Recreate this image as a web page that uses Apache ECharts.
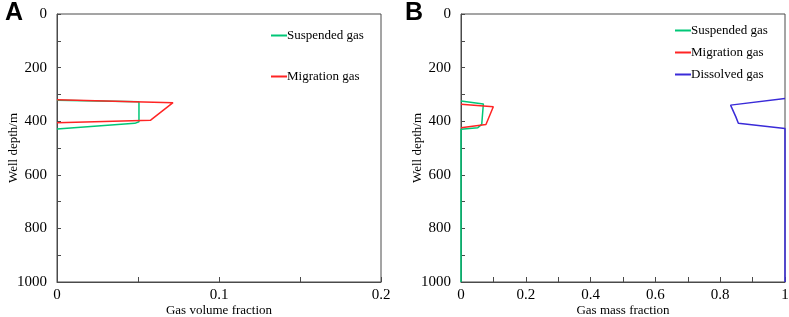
<!DOCTYPE html>
<html lang="en">
	<head>
		<meta charset="utf-8" />
		<title>Gas fraction vs well depth</title>
		<style>
			html, body { margin: 0; padding: 0; background: #fff; }
		</style>
	</head>
	<body>
		<div id="main" style="width: 789px; height: 317px;"></div>

		<script src="https://cdn.jsdelivr.net/npm/echarts@6/dist/echarts.min.js"></script>
		<script type="text/javascript">
			// panel A: gas volume fraction
			const suspA_x = [0, 0.0506, 0.0506, 0.048, 0];
			const suspA_d = [322, 327, 402, 408, 429];
			const migA_x = [0, 0.0716, 0.0578, 0];
			const migA_d = [320, 331, 396, 406];

			// panel B: gas mass fraction
			const suspB_x = [0, 0.069, 0.064, 0.052, 0, 0];
			const suspB_d = [325, 336, 412, 424, 430, 1000];
			const migB_x = [0, 0.0997, 0.077, 0];
			const migB_d = [337, 346, 412, 424];
			const dissB_x = [1, 0.832, 0.848, 0.856, 1, 1];
			const dissB_d = [315, 340, 383, 408, 427, 1000];

			const seriesNames = ['Suspended gas', 'Migration gas', 'Dissolved gas'];
			const colors = ['#00c777', '#ff2424', '#3a2bd8'];

			const serif = 'Liberation Serif';
			const axisColor = '#4a4a4a';

			function pairs(xs, ds) {
				return xs.map((x, i) => [x, ds[i]]);
			}

			function lineSeries(name, color, idx, xs, ds) {
				return {
					name: name,
					type: 'line',
					xAxisIndex: idx,
					yAxisIndex: idx,
					data: pairs(xs, ds),
					symbol: 'none',
					color: color,
					lineStyle: { width: 1.5, color: color },
					animation: false
				};
			}

			function xAxis(idx, max, interval, name) {
				return {
					type: 'value',
					gridIndex: idx,
					position: 'bottom',
					min: 0,
					max: max,
					interval: interval,
					name: name,
					nameLocation: 'middle',
					nameGap: 22,
					nameMoveOverlap: false,
					nameTextStyle: { fontFamily: serif, fontSize: 13, color: '#000' },
					axisLine: { show: true, onZero: false, lineStyle: { color: axisColor, width: 1 } },
					axisTick: { show: true, inside: true, length: 5, lineStyle: { color: axisColor } },
					minorTick: { show: true, splitNumber: 2, length: 5, lineStyle: { color: axisColor } },
					axisLabel: { fontFamily: serif, fontSize: 15, color: '#000', margin: 6 },
					splitLine: { show: false }
				};
			}

			function yAxis(idx) {
				return {
					type: 'value',
					gridIndex: idx,
					position: 'left',
					inverse: true,
					min: 0,
					max: 1000,
					interval: 200,
					name: 'Well depth/m',
					nameLocation: 'middle',
					nameGap: 37,
					nameMoveOverlap: false,
					nameTextStyle: { fontFamily: serif, fontSize: 13, color: '#000' },
					axisLine: { show: true, onZero: false, lineStyle: { color: axisColor, width: 1 } },
					axisTick: { show: true, inside: true, length: 4, lineStyle: { color: axisColor } },
					minorTick: { show: true, splitNumber: 2, length: 4, lineStyle: { color: axisColor } },
					axisLabel: { fontFamily: serif, fontSize: 15, color: '#000', margin: 10, formatter: (v) => String(v) },
					splitLine: { show: false }
				};
			}

			const myChart = echarts.init(document.getElementById('main'));

			const option = {
				backgroundColor: '#fff',
				title: [
					{ text: 'A', left: 0, top: -4, textStyle: { fontFamily: 'Liberation Sans', fontWeight: 'bold', fontSize: 25, color: '#000' } },
					{ text: 'B', left: 400, top: -4, textStyle: { fontFamily: 'Liberation Sans', fontWeight: 'bold', fontSize: 25, color: '#000' } }
				],
				grid: [
					{ left: 57, top: 14, width: 324, height: 268, show: true, borderColor: axisColor, borderWidth: 1, outerBoundsMode: 'none', containLabel: false },
					{ left: 461, top: 14, width: 324, height: 268, show: true, borderColor: axisColor, borderWidth: 1, outerBoundsMode: 'none', containLabel: false }
				],
				legend: [
					{
						data: seriesNames.slice(0, 2),
						orient: 'vertical',
						left: 266,
						top: 24,
						itemGap: 28,
						icon: 'rect',
						itemWidth: 16,
						itemHeight: 2,
						textStyle: { fontFamily: serif, fontSize: 13, color: '#000', padding: [0, 0, 0, -5] },
						selectedMode: false
					},
					{
						data: seriesNames,
						orient: 'vertical',
						left: 670,
						top: 19,
						itemGap: 9,
						icon: 'rect',
						itemWidth: 16,
						itemHeight: 2,
						textStyle: { fontFamily: serif, fontSize: 13, color: '#000', padding: [0, 0, 0, -5] },
						selectedMode: false
					}
				],
				xAxis: [
					xAxis(0, 0.2, 0.1, 'Gas volume fraction'),
					xAxis(1, 1, 0.2, 'Gas mass fraction')
				],
				yAxis: [yAxis(0), yAxis(1)],
				series: [
					lineSeries(seriesNames[0], colors[0], 0, suspA_x, suspA_d),
					lineSeries(seriesNames[1], colors[1], 0, migA_x, migA_d),
					lineSeries(seriesNames[0], colors[0], 1, suspB_x, suspB_d),
					lineSeries(seriesNames[1], colors[1], 1, migB_x, migB_d),
					lineSeries(seriesNames[2], colors[2], 1, dissB_x, dissB_d)
				]
			};

			myChart.setOption(option);
		</script>
	</body>
</html>
